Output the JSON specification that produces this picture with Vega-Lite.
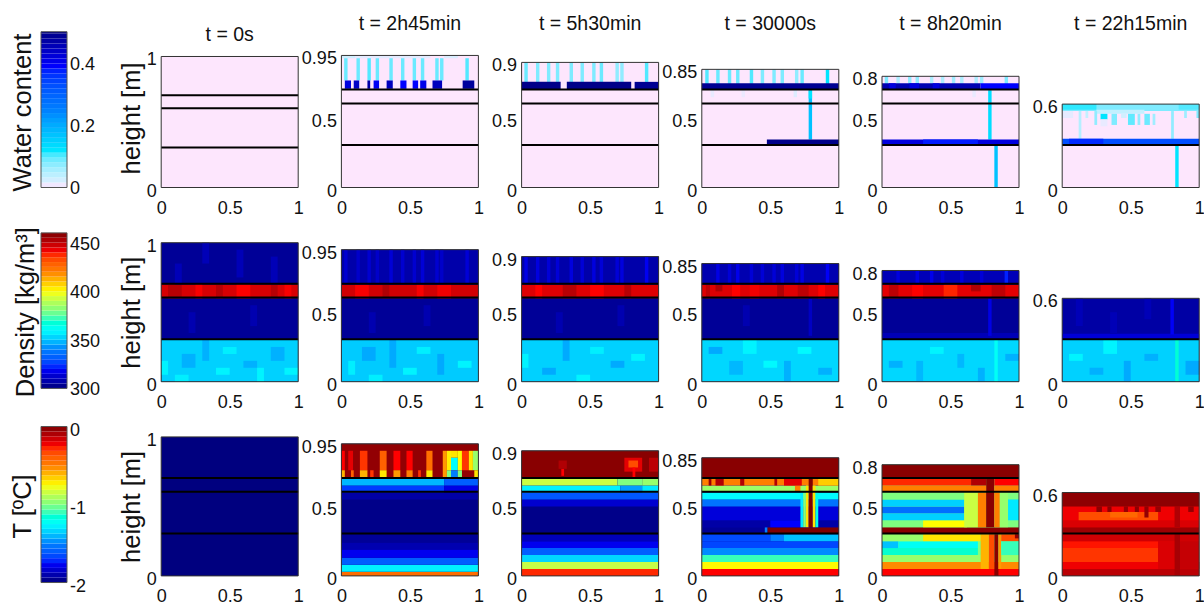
{"$schema":"https://vega.github.io/schema/vega-lite/v6.json","background":"white","padding":{"left":10,"top":13.5,"right":0,"bottom":0},"bounds":"flush","columns":7,"spacing":{"row":55.2,"column":43.2},"resolve":{"scale":{"color":"independent"}},
"config":{"view":{"stroke":null},"font":"Liberation Sans","axis":{"domain":false,"grid":false,"labelFont":"Liberation Sans","labelFontSize":18,"labelColor":"#111","tickColor":"#333","tickSize":0,"labelOverlap":false,"labelFlush":false,"titleFont":"Liberation Sans","titleFontSize":25.5,"titleFontWeight":"normal","titleColor":"#111"},"axisX":{"labelPadding":12},"axisY":{"labelPadding":5,"labelOffset":3.5,"titlePadding":2},"title":{"font":"Liberation Sans","fontWeight":"normal","fontSize":19.5,"color":"#111"}},
"datasets":{
"F100":[{"x0":0,"x1":1,"y0":0,"y1":1}],"F95":[{"x0":0,"x1":1,"y0":0,"y1":0.95}],"F90":[{"x0":0,"x1":1,"y0":0,"y1":0.9}],"F85":[{"x0":0,"x1":1,"y0":0,"y1":0.85}],"F80":[{"x0":0,"x1":1,"y0":0,"y1":0.8}],"F60":[{"x0":0,"x1":1,"y0":0,"y1":0.6}],
"L3":[{"x0":0,"x1":1,"y0":0.305,"y1":0.305},{"x0":0,"x1":1,"y0":0.605,"y1":0.605},{"x0":0,"x1":1,"y0":0.705,"y1":0.705}],"L1":[{"x0":0,"x1":1,"y0":0.305,"y1":0.305}],
"cbwl":[{"y0":0,"t":"0"},{"y0":0.2,"t":"0.2"},{"y0":0.4,"t":"0.4"}],"cbdl":[{"y0":300,"t":"300"},{"y0":350,"t":"350"},{"y0":400,"t":"400"},{"y0":450,"t":"450"}],"cbtl":[{"y0":-2,"t":"-2"},{"y0":-1,"t":"-1"},{"y0":0,"t":"0"}],
"cbwf":[{"x0":0,"x1":1,"y0":0,"y1":0.502}],"cbdf":[{"x0":0,"x1":1,"y0":300,"y1":460}],"cbtf":[{"x0":0,"x1":1,"y0":-2,"y1":0}],
"cbw":[{"y0":0,"y1":0.016,"v":0.008},{"y0":0.016,"y1":0.032,"v":0.024},{"y0":0.032,"y1":0.048,"v":0.04},{"y0":0.048,"y1":0.064,"v":0.056},{"y0":0.064,"y1":0.08,"v":0.072},{"y0":0.08,"y1":0.096,"v":0.088},{"y0":0.096,"y1":0.112,"v":0.104},{"y0":0.112,"y1":0.128,"v":0.12},{"y0":0.128,"y1":0.144,"v":0.136},{"y0":0.144,"y1":0.16,"v":0.152},{"y0":0.16,"y1":0.176,"v":0.168},{"y0":0.176,"y1":0.192,"v":0.184},{"y0":0.192,"y1":0.208,"v":0.2},{"y0":0.208,"y1":0.224,"v":0.216},{"y0":0.224,"y1":0.24,"v":0.232},{"y0":0.24,"y1":0.256,"v":0.248},{"y0":0.256,"y1":0.272,"v":0.264},{"y0":0.272,"y1":0.288,"v":0.28},{"y0":0.288,"y1":0.304,"v":0.296},{"y0":0.304,"y1":0.32,"v":0.312},{"y0":0.32,"y1":0.336,"v":0.328},{"y0":0.336,"y1":0.352,"v":0.344},{"y0":0.352,"y1":0.368,"v":0.36},{"y0":0.368,"y1":0.384,"v":0.376},{"y0":0.384,"y1":0.4,"v":0.392},{"y0":0.4,"y1":0.416,"v":0.408},{"y0":0.416,"y1":0.432,"v":0.424},{"y0":0.432,"y1":0.448,"v":0.44},{"y0":0.448,"y1":0.464,"v":0.456},{"y0":0.464,"y1":0.48,"v":0.472},{"y0":0.48,"y1":0.496,"v":0.488},{"y0":0.496,"y1":0.502,"v":0.505}],
"cbd":[{"y0":300,"y1":305,"v":302.5},{"y0":305,"y1":310,"v":307.5},{"y0":310,"y1":315,"v":312.5},{"y0":315,"y1":320,"v":317.5},{"y0":320,"y1":325,"v":322.5},{"y0":325,"y1":330,"v":327.5},{"y0":330,"y1":335,"v":332.5},{"y0":335,"y1":340,"v":337.5},{"y0":340,"y1":345,"v":342.5},{"y0":345,"y1":350,"v":347.5},{"y0":350,"y1":355,"v":352.5},{"y0":355,"y1":360,"v":357.5},{"y0":360,"y1":365,"v":362.5},{"y0":365,"y1":370,"v":367.5},{"y0":370,"y1":375,"v":372.5},{"y0":375,"y1":380,"v":377.5},{"y0":380,"y1":385,"v":382.5},{"y0":385,"y1":390,"v":387.5},{"y0":390,"y1":395,"v":392.5},{"y0":395,"y1":400,"v":397.5},{"y0":400,"y1":405,"v":402.5},{"y0":405,"y1":410,"v":407.5},{"y0":410,"y1":415,"v":412.5},{"y0":415,"y1":420,"v":417.5},{"y0":420,"y1":425,"v":422.5},{"y0":425,"y1":430,"v":427.5},{"y0":430,"y1":435,"v":432.5},{"y0":435,"y1":440,"v":437.5},{"y0":440,"y1":445,"v":442.5},{"y0":445,"y1":450,"v":447.5},{"y0":450,"y1":455,"v":452.5},{"y0":455,"y1":460,"v":457.5}],
"cbt":[{"y0":-2,"y1":-1.9375,"v":-1.97},{"y0":-1.9375,"y1":-1.875,"v":-1.906},{"y0":-1.875,"y1":-1.8125,"v":-1.844},{"y0":-1.8125,"y1":-1.75,"v":-1.781},{"y0":-1.75,"y1":-1.6875,"v":-1.719},{"y0":-1.6875,"y1":-1.625,"v":-1.656},{"y0":-1.625,"y1":-1.5625,"v":-1.594},{"y0":-1.5625,"y1":-1.5,"v":-1.531},{"y0":-1.5,"y1":-1.4375,"v":-1.469},{"y0":-1.4375,"y1":-1.375,"v":-1.406},{"y0":-1.375,"y1":-1.3125,"v":-1.344},{"y0":-1.3125,"y1":-1.25,"v":-1.281},{"y0":-1.25,"y1":-1.1875,"v":-1.219},{"y0":-1.1875,"y1":-1.125,"v":-1.156},{"y0":-1.125,"y1":-1.0625,"v":-1.094},{"y0":-1.0625,"y1":-1,"v":-1.031},{"y0":-1,"y1":-0.9375,"v":-0.969},{"y0":-0.9375,"y1":-0.875,"v":-0.906},{"y0":-0.875,"y1":-0.8125,"v":-0.844},{"y0":-0.8125,"y1":-0.75,"v":-0.781},{"y0":-0.75,"y1":-0.6875,"v":-0.719},{"y0":-0.6875,"y1":-0.625,"v":-0.656},{"y0":-0.625,"y1":-0.5625,"v":-0.594},{"y0":-0.5625,"y1":-0.5,"v":-0.531},{"y0":-0.5,"y1":-0.4375,"v":-0.469},{"y0":-0.4375,"y1":-0.375,"v":-0.406},{"y0":-0.375,"y1":-0.3125,"v":-0.344},{"y0":-0.3125,"y1":-0.25,"v":-0.281},{"y0":-0.25,"y1":-0.1875,"v":-0.219},{"y0":-0.1875,"y1":-0.125,"v":-0.156},{"y0":-0.125,"y1":-0.0625,"v":-0.094},{"y0":-0.0625,"y1":0,"v":-0.03}],
"w1":[{"x0":0,"x1":1,"y0":0,"y1":1,"v":0}],
"w2":[{"x0":0,"x1":1,"y0":0,"y1":0.95,"v":0},{"x0":0,"x1":0.1,"y0":0.93,"y1":0.95,"v":0.025},{"x0":0.1,"x1":0.65,"y0":0.93,"y1":0.95,"v":0.015},{"x0":0.75,"x1":0.85,"y0":0.93,"y1":0.95,"v":0.02},{"x0":0.02,"x1":0.045,"y0":0.77,"y1":0.93,"v":0.09},{"x0":0.11,"x1":0.135,"y0":0.77,"y1":0.93,"v":0.09},{"x0":0.19,"x1":0.215,"y0":0.77,"y1":0.93,"v":0.1},{"x0":0.25,"x1":0.275,"y0":0.77,"y1":0.93,"v":0.09},{"x0":0.35,"x1":0.375,"y0":0.77,"y1":0.93,"v":0.09},{"x0":0.435,"x1":0.46,"y0":0.77,"y1":0.93,"v":0.09},{"x0":0.52,"x1":0.545,"y0":0.77,"y1":0.93,"v":0.09},{"x0":0.58,"x1":0.605,"y0":0.77,"y1":0.93,"v":0.09},{"x0":0.685,"x1":0.71,"y0":0.77,"y1":0.93,"v":0.09},{"x0":0.72,"x1":0.745,"y0":0.77,"y1":0.93,"v":0.09},{"x0":0.905,"x1":0.93,"y0":0.77,"y1":0.93,"v":0.1},{"x0":0.025,"x1":0.07,"y0":0.71,"y1":0.77,"v":0.42},{"x0":0.09,"x1":0.13,"y0":0.71,"y1":0.77,"v":0.44},{"x0":0.19,"x1":0.21,"y0":0.71,"y1":0.77,"v":0.47},{"x0":0.235,"x1":0.275,"y0":0.71,"y1":0.77,"v":0.4},{"x0":0.33,"x1":0.375,"y0":0.71,"y1":0.77,"v":0.45},{"x0":0.43,"x1":0.475,"y0":0.71,"y1":0.77,"v":0.39},{"x0":0.52,"x1":0.56,"y0":0.71,"y1":0.77,"v":0.39},{"x0":0.575,"x1":0.62,"y0":0.71,"y1":0.77,"v":0.41},{"x0":0.665,"x1":0.735,"y0":0.71,"y1":0.77,"v":0.45},{"x0":0.885,"x1":0.97,"y0":0.71,"y1":0.77,"v":0.48}],
"w3":[{"x0":0,"x1":1,"y0":0,"y1":0.9,"v":0},{"x0":0.02,"x1":0.045,"y0":0.755,"y1":0.9,"v":0.09},{"x0":0.105,"x1":0.13,"y0":0.755,"y1":0.9,"v":0.08},{"x0":0.185,"x1":0.21,"y0":0.755,"y1":0.9,"v":0.08},{"x0":0.25,"x1":0.275,"y0":0.755,"y1":0.9,"v":0.08},{"x0":0.35,"x1":0.375,"y0":0.755,"y1":0.9,"v":0.08},{"x0":0.43,"x1":0.455,"y0":0.755,"y1":0.9,"v":0.08},{"x0":0.515,"x1":0.54,"y0":0.755,"y1":0.9,"v":0.08},{"x0":0.57,"x1":0.595,"y0":0.755,"y1":0.9,"v":0.09},{"x0":0.685,"x1":0.71,"y0":0.755,"y1":0.9,"v":0.07},{"x0":0.72,"x1":0.745,"y0":0.755,"y1":0.9,"v":0.07},{"x0":0.9,"x1":0.925,"y0":0.755,"y1":0.9,"v":0.1},{"x0":0,"x1":0.285,"y0":0.705,"y1":0.76,"v":0.5},{"x0":0.33,"x1":0.8,"y0":0.705,"y1":0.76,"v":0.5},{"x0":0.825,"x1":1,"y0":0.705,"y1":0.76,"v":0.49}],
"w4":[{"x0":0,"x1":1,"y0":0,"y1":0.85,"v":0},{"x0":0.025,"x1":0.05,"y0":0.745,"y1":0.85,"v":0.1},{"x0":0.105,"x1":0.13,"y0":0.745,"y1":0.85,"v":0.09},{"x0":0.19,"x1":0.215,"y0":0.745,"y1":0.85,"v":0.09},{"x0":0.25,"x1":0.275,"y0":0.745,"y1":0.85,"v":0.09},{"x0":0.35,"x1":0.375,"y0":0.745,"y1":0.85,"v":0.1},{"x0":0.43,"x1":0.455,"y0":0.745,"y1":0.85,"v":0.08},{"x0":0.515,"x1":0.54,"y0":0.745,"y1":0.85,"v":0.08},{"x0":0.575,"x1":0.6,"y0":0.745,"y1":0.85,"v":0.08},{"x0":0.68,"x1":0.705,"y0":0.745,"y1":0.85,"v":0.07},{"x0":0.72,"x1":0.745,"y0":0.745,"y1":0.85,"v":0.09},{"x0":0.905,"x1":0.93,"y0":0.745,"y1":0.85,"v":0.12},{"x0":0,"x1":1,"y0":0.705,"y1":0.75,"v":0.49},{"x0":0.065,"x1":0.09,"y0":0.65,"y1":0.7,"v":0.012},{"x0":0.29,"x1":0.315,"y0":0.65,"y1":0.7,"v":0.01},{"x0":0.67,"x1":0.695,"y0":0.65,"y1":0.7,"v":0.018},{"x0":0.78,"x1":0.805,"y0":0.345,"y1":0.7,"v":0.17},{"x0":0.78,"x1":0.805,"y0":0.64,"y1":0.7,"v":0.12},{"x0":0.475,"x1":1,"y0":0.305,"y1":0.345,"v":0.5}],
"w5":[{"x0":0,"x1":1,"y0":0,"y1":0.8,"v":0},{"x0":0.02,"x1":0.045,"y0":0.745,"y1":0.8,"v":0.08},{"x0":0.105,"x1":0.13,"y0":0.745,"y1":0.8,"v":0.05},{"x0":0.19,"x1":0.215,"y0":0.745,"y1":0.8,"v":0.07},{"x0":0.245,"x1":0.27,"y0":0.745,"y1":0.8,"v":0.07},{"x0":0.35,"x1":0.375,"y0":0.745,"y1":0.8,"v":0.05},{"x0":0.43,"x1":0.455,"y0":0.745,"y1":0.8,"v":0.05},{"x0":0.51,"x1":0.535,"y0":0.745,"y1":0.8,"v":0.06},{"x0":0.57,"x1":0.595,"y0":0.745,"y1":0.8,"v":0.05},{"x0":0.675,"x1":0.7,"y0":0.745,"y1":0.8,"v":0.05},{"x0":0.715,"x1":0.74,"y0":0.745,"y1":0.8,"v":0.06},{"x0":0.895,"x1":0.92,"y0":0.745,"y1":0.8,"v":0.08},{"x0":0,"x1":0.72,"y0":0.705,"y1":0.75,"v":0.46},{"x0":0.05,"x1":0.1,"y0":0.705,"y1":0.75,"v":0.42},{"x0":0.2,"x1":0.27,"y0":0.705,"y1":0.75,"v":0.42},{"x0":0.37,"x1":0.42,"y0":0.705,"y1":0.75,"v":0.42},{"x0":0.72,"x1":1,"y0":0.705,"y1":0.75,"v":0.39},{"x0":0.66,"x1":0.685,"y0":0.65,"y1":0.7,"v":0.012},{"x0":0.775,"x1":0.8,"y0":0.345,"y1":0.7,"v":0.13},{"x0":0,"x1":1,"y0":0.305,"y1":0.345,"v":0.42},{"x0":0.3,"x1":0.7,"y0":0.305,"y1":0.345,"v":0.38},{"x0":0.82,"x1":0.845,"y0":0,"y1":0.3,"v":0.17}],
"w6":[{"x0":0,"x1":1,"y0":0,"y1":0.6,"v":0},{"x0":0,"x1":1,"y0":0.55,"y1":0.6,"v":0.08},{"x0":0,"x1":0.25,"y0":0.56,"y1":0.6,"v":0.11},{"x0":0.85,"x1":1,"y0":0.56,"y1":0.6,"v":0.1},{"x0":0.25,"x1":0.6,"y0":0.53,"y1":0.56,"v":0.035},{"x0":0,"x1":0.08,"y0":0.5,"y1":0.55,"v":0.014},{"x0":0.12,"x1":0.14,"y0":0.35,"y1":0.55,"v":0.045},{"x0":0.17,"x1":0.19,"y0":0.5,"y1":0.55,"v":0.035},{"x0":0.235,"x1":0.255,"y0":0.45,"y1":0.55,"v":0.07},{"x0":0.28,"x1":0.33,"y0":0.49,"y1":0.53,"v":0.12},{"x0":0.28,"x1":0.33,"y0":0.44,"y1":0.49,"v":0.012},{"x0":0.36,"x1":0.4,"y0":0.45,"y1":0.53,"v":0.08},{"x0":0.43,"x1":0.47,"y0":0.5,"y1":0.53,"v":0.025},{"x0":0.48,"x1":0.53,"y0":0.45,"y1":0.53,"v":0.095},{"x0":0.55,"x1":0.57,"y0":0.45,"y1":0.53,"v":0.07},{"x0":0.6,"x1":0.64,"y0":0.45,"y1":0.53,"v":0.09},{"x0":0.66,"x1":0.68,"y0":0.45,"y1":0.53,"v":0.06},{"x0":0.795,"x1":0.815,"y0":0.35,"y1":0.55,"v":0.07},{"x0":0.89,"x1":0.91,"y0":0.5,"y1":0.55,"v":0.06},{"x0":0.98,"x1":1,"y0":0.5,"y1":0.55,"v":0.08},{"x0":0,"x1":1,"y0":0.305,"y1":0.35,"v":0.33},{"x0":0.05,"x1":0.3,"y0":0.305,"y1":0.35,"v":0.37},{"x0":0.825,"x1":0.85,"y0":0,"y1":0.3,"v":0.12}],
"d1":[{"x0":0,"x1":1,"y0":0,"y1":1,"v":304},{"x0":0,"x1":1,"y0":0,"y1":0.3,"v":352},{"x0":0,"x1":0.05,"y0":0.05,"y1":0.15,"v":358},{"x0":0.1,"x1":0.2,"y0":0,"y1":0.05,"v":357},{"x0":0.15,"x1":0.25,"y0":0.1,"y1":0.2,"v":347},{"x0":0.3,"x1":0.35,"y0":0.15,"y1":0.3,"v":347},{"x0":0.4,"x1":0.5,"y0":0.05,"y1":0.1,"v":358},{"x0":0.45,"x1":0.55,"y0":0.2,"y1":0.25,"v":357},{"x0":0.6,"x1":0.7,"y0":0.1,"y1":0.15,"v":347},{"x0":0.7,"x1":0.75,"y0":0,"y1":0.1,"v":358},{"x0":0.8,"x1":0.9,"y0":0.15,"y1":0.25,"v":347},{"x0":0.9,"x1":1,"y0":0.05,"y1":0.1,"v":358},{"x0":0,"x1":1,"y0":0.6,"y1":0.7,"v":446},{"x0":0.05,"x1":0.15,"y0":0.6,"y1":0.7,"v":451},{"x0":0.25,"x1":0.3,"y0":0.6,"y1":0.7,"v":441},{"x0":0.4,"x1":0.45,"y0":0.6,"y1":0.7,"v":451},{"x0":0.55,"x1":0.65,"y0":0.6,"y1":0.7,"v":440},{"x0":0.8,"x1":0.85,"y0":0.6,"y1":0.7,"v":451},{"x0":0.9,"x1":0.95,"y0":0.6,"y1":0.7,"v":441},{"x0":0.1,"x1":0.15,"y0":0.7,"y1":0.85,"v":309},{"x0":0.3,"x1":0.35,"y0":0.85,"y1":1,"v":309},{"x0":0.55,"x1":0.6,"y0":0.75,"y1":0.95,"v":309},{"x0":0.8,"x1":0.85,"y0":0.7,"y1":0.9,"v":309},{"x0":0.2,"x1":0.25,"y0":0.35,"y1":0.5,"v":308},{"x0":0.65,"x1":0.7,"y0":0.4,"y1":0.55,"v":308}],
"d2":[{"x0":0,"x1":1,"y0":0,"y1":0.95,"v":304},{"x0":0,"x1":1,"y0":0,"y1":0.3,"v":351},{"x0":0.05,"x1":0.1,"y0":0.05,"y1":0.15,"v":357},{"x0":0.2,"x1":0.3,"y0":0,"y1":0.05,"v":357},{"x0":0.15,"x1":0.25,"y0":0.15,"y1":0.25,"v":346},{"x0":0.35,"x1":0.4,"y0":0.1,"y1":0.3,"v":346},{"x0":0.45,"x1":0.55,"y0":0.05,"y1":0.1,"v":358},{"x0":0.55,"x1":0.65,"y0":0.2,"y1":0.25,"v":357},{"x0":0.7,"x1":0.75,"y0":0.05,"y1":0.2,"v":346},{"x0":0.85,"x1":0.95,"y0":0.1,"y1":0.15,"v":358},{"x0":0,"x1":1,"y0":0.6,"y1":0.7,"v":447},{"x0":0.1,"x1":0.2,"y0":0.6,"y1":0.7,"v":441},{"x0":0.3,"x1":0.35,"y0":0.6,"y1":0.7,"v":452},{"x0":0.55,"x1":0.6,"y0":0.6,"y1":0.7,"v":441},{"x0":0.7,"x1":0.8,"y0":0.6,"y1":0.7,"v":442},{"x0":0.2,"x1":0.25,"y0":0.35,"y1":0.5,"v":308},{"x0":0.6,"x1":0.65,"y0":0.4,"y1":0.55,"v":308},{"x0":0,"x1":1,"y0":0.7,"y1":0.95,"v":307},{"x0":0.02,"x1":0.045,"y0":0.7,"y1":0.95,"v":313},{"x0":0.11,"x1":0.135,"y0":0.7,"y1":0.95,"v":312},{"x0":0.19,"x1":0.215,"y0":0.7,"y1":0.95,"v":313},{"x0":0.25,"x1":0.275,"y0":0.7,"y1":0.95,"v":312},{"x0":0.35,"x1":0.375,"y0":0.7,"y1":0.95,"v":314},{"x0":0.435,"x1":0.46,"y0":0.7,"y1":0.95,"v":313},{"x0":0.52,"x1":0.545,"y0":0.7,"y1":0.95,"v":313},{"x0":0.58,"x1":0.605,"y0":0.7,"y1":0.95,"v":314},{"x0":0.685,"x1":0.71,"y0":0.7,"y1":0.95,"v":313},{"x0":0.72,"x1":0.745,"y0":0.7,"y1":0.95,"v":312},{"x0":0.905,"x1":0.93,"y0":0.7,"y1":0.95,"v":314}],
"d3":[{"x0":0,"x1":1,"y0":0,"y1":0.9,"v":304},{"x0":0,"x1":1,"y0":0,"y1":0.3,"v":352},{"x0":0,"x1":0.05,"y0":0.1,"y1":0.2,"v":358},{"x0":0.15,"x1":0.25,"y0":0.05,"y1":0.1,"v":346},{"x0":0.3,"x1":0.35,"y0":0.15,"y1":0.3,"v":346},{"x0":0.4,"x1":0.5,"y0":0,"y1":0.05,"v":358},{"x0":0.5,"x1":0.6,"y0":0.2,"y1":0.25,"v":357},{"x0":0.65,"x1":0.75,"y0":0.1,"y1":0.15,"v":346},{"x0":0.8,"x1":0.9,"y0":0.15,"y1":0.2,"v":358},{"x0":0,"x1":1,"y0":0.6,"y1":0.7,"v":445},{"x0":0.1,"x1":0.15,"y0":0.6,"y1":0.7,"v":440},{"x0":0.3,"x1":0.4,"y0":0.6,"y1":0.7,"v":451},{"x0":0.5,"x1":0.6,"y0":0.6,"y1":0.7,"v":440},{"x0":0.75,"x1":0.8,"y0":0.6,"y1":0.7,"v":451},{"x0":0.25,"x1":0.3,"y0":0.35,"y1":0.5,"v":308},{"x0":0.7,"x1":0.75,"y0":0.4,"y1":0.55,"v":308},{"x0":0,"x1":1,"y0":0.7,"y1":0.9,"v":307},{"x0":0.02,"x1":0.045,"y0":0.7,"y1":0.9,"v":316},{"x0":0.105,"x1":0.13,"y0":0.7,"y1":0.9,"v":315},{"x0":0.185,"x1":0.21,"y0":0.7,"y1":0.9,"v":314},{"x0":0.25,"x1":0.275,"y0":0.7,"y1":0.9,"v":314},{"x0":0.35,"x1":0.375,"y0":0.7,"y1":0.9,"v":315},{"x0":0.43,"x1":0.455,"y0":0.7,"y1":0.9,"v":314},{"x0":0.515,"x1":0.54,"y0":0.7,"y1":0.9,"v":315},{"x0":0.57,"x1":0.595,"y0":0.7,"y1":0.9,"v":314},{"x0":0.685,"x1":0.71,"y0":0.7,"y1":0.9,"v":314},{"x0":0.72,"x1":0.745,"y0":0.7,"y1":0.9,"v":315},{"x0":0.9,"x1":0.925,"y0":0.7,"y1":0.9,"v":318}],
"d4":[{"x0":0,"x1":1,"y0":0,"y1":0.85,"v":304},{"x0":0,"x1":1,"y0":0,"y1":0.3,"v":353},{"x0":0.05,"x1":0.15,"y0":0.2,"y1":0.25,"v":346},{"x0":0.2,"x1":0.3,"y0":0.05,"y1":0.15,"v":348},{"x0":0.3,"x1":0.4,"y0":0.2,"y1":0.3,"v":358},{"x0":0.45,"x1":0.55,"y0":0.1,"y1":0.15,"v":359},{"x0":0.6,"x1":0.65,"y0":0,"y1":0.15,"v":347},{"x0":0.7,"x1":0.8,"y0":0.2,"y1":0.25,"v":359},{"x0":0.85,"x1":0.95,"y0":0.05,"y1":0.1,"v":347},{"x0":0,"x1":1,"y0":0.6,"y1":0.7,"v":445},{"x0":0.03,"x1":0.06,"y0":0.6,"y1":0.7,"v":450},{"x0":0.1,"x1":0.15,"y0":0.65,"y1":0.7,"v":452},{"x0":0.22,"x1":0.28,"y0":0.6,"y1":0.7,"v":440},{"x0":0.35,"x1":0.42,"y0":0.6,"y1":0.7,"v":442},{"x0":0.55,"x1":0.6,"y0":0.6,"y1":0.7,"v":452},{"x0":0.7,"x1":0.78,"y0":0.6,"y1":0.7,"v":450},{"x0":0.85,"x1":0.9,"y0":0.6,"y1":0.7,"v":440},{"x0":0.78,"x1":0.805,"y0":0.33,"y1":0.6,"v":311},{"x0":0.3,"x1":0.35,"y0":0.4,"y1":0.55,"v":308},{"x0":0,"x1":1,"y0":0.7,"y1":0.85,"v":308},{"x0":0.105,"x1":0.13,"y0":0.7,"y1":0.85,"v":316},{"x0":0.19,"x1":0.215,"y0":0.7,"y1":0.85,"v":314},{"x0":0.25,"x1":0.275,"y0":0.7,"y1":0.85,"v":317},{"x0":0.35,"x1":0.375,"y0":0.7,"y1":0.85,"v":314},{"x0":0.43,"x1":0.455,"y0":0.7,"y1":0.85,"v":314},{"x0":0.515,"x1":0.54,"y0":0.7,"y1":0.85,"v":314},{"x0":0.575,"x1":0.6,"y0":0.7,"y1":0.85,"v":315},{"x0":0.68,"x1":0.705,"y0":0.7,"y1":0.85,"v":314},{"x0":0.72,"x1":0.745,"y0":0.7,"y1":0.85,"v":316},{"x0":0.905,"x1":0.93,"y0":0.7,"y1":0.85,"v":319}],
"d5":[{"x0":0,"x1":1,"y0":0,"y1":0.8,"v":304},{"x0":0,"x1":1,"y0":0,"y1":0.3,"v":353},{"x0":0.05,"x1":0.15,"y0":0.1,"y1":0.15,"v":347},{"x0":0.25,"x1":0.3,"y0":0,"y1":0.15,"v":348},{"x0":0.35,"x1":0.45,"y0":0.2,"y1":0.25,"v":358},{"x0":0.55,"x1":0.6,"y0":0.1,"y1":0.2,"v":348},{"x0":0.7,"x1":0.75,"y0":0,"y1":0.1,"v":347},{"x0":0.82,"x1":0.845,"y0":0,"y1":0.3,"v":362},{"x0":0.9,"x1":1,"y0":0.15,"y1":0.2,"v":347},{"x0":0,"x1":1,"y0":0.6,"y1":0.7,"v":444},{"x0":0.05,"x1":0.12,"y0":0.6,"y1":0.7,"v":450},{"x0":0.22,"x1":0.3,"y0":0.6,"y1":0.7,"v":440},{"x0":0.45,"x1":0.55,"y0":0.6,"y1":0.7,"v":438},{"x0":0.65,"x1":0.72,"y0":0.65,"y1":0.7,"v":452},{"x0":0.8,"x1":0.9,"y0":0.6,"y1":0.7,"v":450},{"x0":0,"x1":1,"y0":0.3,"y1":0.35,"v":309},{"x0":0.775,"x1":0.8,"y0":0.33,"y1":0.6,"v":316},{"x0":0,"x1":1,"y0":0.7,"y1":0.8,"v":309},{"x0":0.105,"x1":0.13,"y0":0.7,"y1":0.8,"v":315},{"x0":0.245,"x1":0.27,"y0":0.7,"y1":0.8,"v":316},{"x0":0.35,"x1":0.375,"y0":0.7,"y1":0.8,"v":317},{"x0":0.43,"x1":0.455,"y0":0.7,"y1":0.8,"v":314},{"x0":0.57,"x1":0.595,"y0":0.7,"y1":0.8,"v":315},{"x0":0.715,"x1":0.74,"y0":0.7,"y1":0.8,"v":314},{"x0":0.895,"x1":0.92,"y0":0.7,"y1":0.8,"v":322}],
"d6":[{"x0":0,"x1":1,"y0":0,"y1":0.6,"v":306},{"x0":0,"x1":1,"y0":0,"y1":0.3,"v":352},{"x0":0.05,"x1":0.15,"y0":0.15,"y1":0.2,"v":358},{"x0":0.2,"x1":0.3,"y0":0.05,"y1":0.1,"v":347},{"x0":0.3,"x1":0.4,"y0":0.2,"y1":0.3,"v":358},{"x0":0.45,"x1":0.5,"y0":0,"y1":0.15,"v":346},{"x0":0.6,"x1":0.7,"y0":0.15,"y1":0.2,"v":347},{"x0":0.825,"x1":0.85,"y0":0,"y1":0.3,"v":368},{"x0":0.9,"x1":1,"y0":0.05,"y1":0.15,"v":346},{"x0":0,"x1":1,"y0":0.305,"y1":0.345,"v":314},{"x0":0.1,"x1":0.15,"y0":0.4,"y1":0.6,"v":309},{"x0":0.35,"x1":0.4,"y0":0.35,"y1":0.5,"v":309},{"x0":0.6,"x1":0.65,"y0":0.45,"y1":0.6,"v":309},{"x0":0.79,"x1":0.815,"y0":0.34,"y1":0.6,"v":319}],
"t1":[{"x0":0,"x1":1,"y0":0,"y1":1,"v":-2}],
"t2":[{"x0":0,"x1":1,"y0":0,"y1":0.95,"v":-1.98},{"x0":0,"x1":1,"y0":0,"y1":0.03,"v":-0.44},{"x0":0,"x1":1,"y0":0.03,"y1":0.08,"v":-1.28},{"x0":0,"x1":1,"y0":0.08,"y1":0.13,"v":-1.6},{"x0":0,"x1":1,"y0":0.13,"y1":0.19,"v":-1.78},{"x0":0,"x1":1,"y0":0.19,"y1":0.24,"v":-1.9},{"x0":0,"x1":1,"y0":0.24,"y1":0.3,"v":-1.95},{"x0":0,"x1":1,"y0":0.55,"y1":0.6,"v":-1.92},{"x0":0,"x1":0.75,"y0":0.6,"y1":0.65,"v":-1.68},{"x0":0.75,"x1":1,"y0":0.6,"y1":0.65,"v":-1.8},{"x0":0,"x1":0.75,"y0":0.65,"y1":0.705,"v":-1.4},{"x0":0.75,"x1":1,"y0":0.65,"y1":0.705,"v":-1.6},{"x0":0,"x1":1,"y0":0.705,"y1":0.95,"v":-0.04},{"x0":0,"x1":0.025,"y0":0.76,"y1":0.9,"v":-0.25},{"x0":0.05,"x1":0.085,"y0":0.76,"y1":0.9,"v":-0.2},{"x0":0.135,"x1":0.19,"y0":0.76,"y1":0.9,"v":-0.3},{"x0":0.28,"x1":0.33,"y0":0.76,"y1":0.9,"v":-0.4},{"x0":0.38,"x1":0.43,"y0":0.76,"y1":0.9,"v":-0.25},{"x0":0.475,"x1":0.52,"y0":0.76,"y1":0.9,"v":-0.25},{"x0":0.62,"x1":0.665,"y0":0.76,"y1":0.9,"v":-0.45},{"x0":0,"x1":0.025,"y0":0.71,"y1":0.76,"v":-0.6},{"x0":0.07,"x1":0.09,"y0":0.71,"y1":0.76,"v":-0.4},{"x0":0.135,"x1":0.19,"y0":0.71,"y1":0.76,"v":-0.6},{"x0":0.21,"x1":0.235,"y0":0.71,"y1":0.76,"v":-0.3},{"x0":0.28,"x1":0.33,"y0":0.71,"y1":0.76,"v":-0.7},{"x0":0.38,"x1":0.43,"y0":0.71,"y1":0.76,"v":-0.55},{"x0":0.475,"x1":0.52,"y0":0.71,"y1":0.76,"v":-0.5},{"x0":0.56,"x1":0.58,"y0":0.71,"y1":0.76,"v":-0.3},{"x0":0.62,"x1":0.665,"y0":0.71,"y1":0.76,"v":-0.7},{"x0":0.74,"x1":0.77,"y0":0.71,"y1":0.9,"v":-0.55},{"x0":0.77,"x1":0.8,"y0":0.76,"y1":0.9,"v":-0.72},{"x0":0.8,"x1":0.85,"y0":0.85,"y1":0.9,"v":-0.7},{"x0":0.77,"x1":0.8,"y0":0.71,"y1":0.76,"v":-1},{"x0":0.8,"x1":0.85,"y0":0.76,"y1":0.85,"v":-1.25},{"x0":0.8,"x1":0.85,"y0":0.71,"y1":0.76,"v":-1.5},{"x0":0.85,"x1":0.88,"y0":0.76,"y1":0.9,"v":-0.75},{"x0":0.85,"x1":0.88,"y0":0.71,"y1":0.76,"v":-1},{"x0":0.88,"x1":0.93,"y0":0.76,"y1":0.9,"v":-0.3},{"x0":0.93,"x1":0.96,"y0":0.76,"y1":0.9,"v":-0.7},{"x0":0.96,"x1":1,"y0":0.76,"y1":0.9,"v":-0.95},{"x0":0.97,"x1":1,"y0":0.71,"y1":0.76,"v":-0.7}],
"t3":[{"x0":0,"x1":1,"y0":0,"y1":0.9,"v":-1.98},{"x0":0,"x1":1,"y0":0,"y1":0.05,"v":-0.28},{"x0":0,"x1":1,"y0":0.05,"y1":0.1,"v":-0.86},{"x0":0,"x1":1,"y0":0.1,"y1":0.15,"v":-1.34},{"x0":0,"x1":1,"y0":0.15,"y1":0.2,"v":-1.6},{"x0":0,"x1":1,"y0":0.2,"y1":0.25,"v":-1.78},{"x0":0,"x1":1,"y0":0.25,"y1":0.3,"v":-1.88},{"x0":0,"x1":1,"y0":0.5,"y1":0.55,"v":-1.84},{"x0":0,"x1":1,"y0":0.55,"y1":0.6,"v":-1.62},{"x0":0,"x1":0.72,"y0":0.6,"y1":0.65,"v":-1.28},{"x0":0.72,"x1":0.88,"y0":0.6,"y1":0.65,"v":-1.45},{"x0":0.88,"x1":1,"y0":0.6,"y1":0.65,"v":-1.3},{"x0":0,"x1":0.7,"y0":0.65,"y1":0.705,"v":-0.85},{"x0":0.7,"x1":0.88,"y0":0.65,"y1":0.705,"v":-1},{"x0":0.88,"x1":1,"y0":0.65,"y1":0.705,"v":-0.95},{"x0":0,"x1":1,"y0":0.705,"y1":0.9,"v":-0.02},{"x0":0.75,"x1":0.88,"y0":0.75,"y1":0.85,"v":-0.2},{"x0":0.78,"x1":0.85,"y0":0.78,"y1":0.83,"v":-0.35},{"x0":0.81,"x1":0.83,"y0":0.71,"y1":0.78,"v":-0.25},{"x0":0.93,"x1":1,"y0":0.75,"y1":0.85,"v":-0.12},{"x0":0.29,"x1":0.31,"y0":0.72,"y1":0.77,"v":-0.25},{"x0":0.27,"x1":0.33,"y0":0.77,"y1":0.83,"v":-0.1}],
"t4":[{"x0":0,"x1":1,"y0":0,"y1":0.85,"v":-1.9},{"x0":0,"x1":1,"y0":0,"y1":0.05,"v":-0.25},{"x0":0,"x1":1,"y0":0.05,"y1":0.1,"v":-0.74},{"x0":0,"x1":1,"y0":0.1,"y1":0.15,"v":-1.1},{"x0":0,"x1":1,"y0":0.15,"y1":0.2,"v":-1.48},{"x0":0,"x1":1,"y0":0.2,"y1":0.25,"v":-1.66},{"x0":0,"x1":0.5,"y0":0.25,"y1":0.3,"v":-1.65},{"x0":0.5,"x1":0.6,"y0":0.25,"y1":0.3,"v":-1.5},{"x0":0.6,"x1":1,"y0":0.25,"y1":0.3,"v":-1.38},{"x0":0,"x1":0.46,"y0":0.305,"y1":0.35,"v":-1.95},{"x0":0.46,"x1":0.48,"y0":0.305,"y1":0.35,"v":-1.5},{"x0":0.48,"x1":1,"y0":0.305,"y1":0.35,"v":0},{"x0":0,"x1":1,"y0":0.35,"y1":0.4,"v":-1.92},{"x0":0.5,"x1":0.72,"y0":0.35,"y1":0.4,"v":-1.75},{"x0":0,"x1":1,"y0":0.4,"y1":0.5,"v":-1.82},{"x0":0,"x1":1,"y0":0.5,"y1":0.55,"v":-1.54},{"x0":0,"x1":1,"y0":0.55,"y1":0.6,"v":-1.26},{"x0":0,"x1":1,"y0":0.605,"y1":0.65,"v":-0.94},{"x0":0.68,"x1":0.72,"y0":0.605,"y1":0.65,"v":-0.5},{"x0":0,"x1":1,"y0":0.65,"y1":0.705,"v":-0.5},{"x0":0.05,"x1":0.07,"y0":0.65,"y1":0.705,"v":-0.05},{"x0":0.1,"x1":0.16,"y0":0.65,"y1":0.705,"v":-0.1},{"x0":0.28,"x1":0.31,"y0":0.65,"y1":0.705,"v":-0.1},{"x0":0.53,"x1":0.55,"y0":0.65,"y1":0.705,"v":-0.1},{"x0":0.6,"x1":0.73,"y0":0.65,"y1":0.705,"v":-0.2},{"x0":0.72,"x1":0.74,"y0":0.35,"y1":0.6,"v":-1.3},{"x0":0.74,"x1":0.76,"y0":0.35,"y1":0.6,"v":-1},{"x0":0.76,"x1":0.78,"y0":0.35,"y1":0.65,"v":-0.7},{"x0":0.78,"x1":0.81,"y0":0.35,"y1":0.705,"v":0},{"x0":0.81,"x1":0.83,"y0":0.35,"y1":0.65,"v":-0.7},{"x0":0.83,"x1":0.85,"y0":0.35,"y1":0.6,"v":-1.2},{"x0":0.85,"x1":1,"y0":0.65,"y1":0.705,"v":-0.65},{"x0":0,"x1":1,"y0":0.705,"y1":0.85,"v":-0.02}],
"t5":[{"x0":0,"x1":1,"y0":0,"y1":0.8,"v":-1},{"x0":0,"x1":1,"y0":0,"y1":0.05,"v":-0.25},{"x0":0,"x1":1,"y0":0.05,"y1":0.1,"v":-0.52},{"x0":0,"x1":1,"y0":0.1,"y1":0.15,"v":-0.95},{"x0":0,"x1":0.7,"y0":0.15,"y1":0.2,"v":-1.14},{"x0":0,"x1":0.12,"y0":0.2,"y1":0.25,"v":-1.38},{"x0":0.12,"x1":0.7,"y0":0.2,"y1":0.25,"v":-1.22},{"x0":0,"x1":0.3,"y0":0.25,"y1":0.3,"v":-0.95},{"x0":0.3,"x1":0.72,"y0":0.25,"y1":0.3,"v":-0.7},{"x0":0.72,"x1":0.78,"y0":0.05,"y1":0.3,"v":-0.6},{"x0":0.78,"x1":0.82,"y0":0.05,"y1":0.3,"v":-0.35},{"x0":0.82,"x1":0.85,"y0":0,"y1":0.3,"v":-0.02},{"x0":0.85,"x1":0.87,"y0":0.05,"y1":0.3,"v":-0.55},{"x0":0.87,"x1":1,"y0":0.15,"y1":0.25,"v":-1.1},{"x0":0.87,"x1":1,"y0":0.25,"y1":0.3,"v":-0.35},{"x0":0.97,"x1":1,"y0":0.27,"y1":0.3,"v":-0.05},{"x0":0,"x1":1,"y0":0.305,"y1":0.35,"v":-0.02},{"x0":0,"x1":1,"y0":0.35,"y1":0.4,"v":-1},{"x0":0.3,"x1":0.62,"y0":0.35,"y1":0.4,"v":-0.75},{"x0":0,"x1":0.6,"y0":0.4,"y1":0.45,"v":-1.35},{"x0":0,"x1":0.6,"y0":0.45,"y1":0.5,"v":-1.55},{"x0":0,"x1":0.6,"y0":0.5,"y1":0.55,"v":-1.35},{"x0":0,"x1":0.6,"y0":0.55,"y1":0.6,"v":-1},{"x0":0.6,"x1":0.7,"y0":0.35,"y1":0.6,"v":-0.85},{"x0":0.7,"x1":0.76,"y0":0.35,"y1":0.6,"v":-0.5},{"x0":0.76,"x1":0.82,"y0":0.35,"y1":0.705,"v":-0.02},{"x0":0.82,"x1":0.86,"y0":0.35,"y1":0.6,"v":-0.5},{"x0":0.86,"x1":0.92,"y0":0.35,"y1":0.6,"v":-0.95},{"x0":0.92,"x1":1,"y0":0.4,"y1":0.55,"v":-1.3},{"x0":0,"x1":0.76,"y0":0.605,"y1":0.65,"v":-0.5},{"x0":0.82,"x1":1,"y0":0.605,"y1":0.65,"v":-0.5},{"x0":0,"x1":0.65,"y0":0.65,"y1":0.705,"v":-0.28},{"x0":0.65,"x1":0.76,"y0":0.65,"y1":0.705,"v":-0.1},{"x0":0.82,"x1":1,"y0":0.65,"y1":0.705,"v":-0.25},{"x0":0,"x1":1,"y0":0.705,"y1":0.8,"v":-0.02}],
"t6":[{"x0":0,"x1":1,"y0":0,"y1":0.6,"v":-0.2},{"x0":0,"x1":1,"y0":0,"y1":0.05,"v":-0.12},{"x0":0,"x1":1,"y0":0.05,"y1":0.1,"v":-0.22},{"x0":0,"x1":0.7,"y0":0.1,"y1":0.2,"v":-0.3},{"x0":0,"x1":0.7,"y0":0.2,"y1":0.25,"v":-0.26},{"x0":0,"x1":1,"y0":0.25,"y1":0.3,"v":-0.16},{"x0":0.7,"x1":0.82,"y0":0.05,"y1":0.25,"v":-0.18},{"x0":0.82,"x1":0.86,"y0":0,"y1":0.3,"v":-0.08},{"x0":0.86,"x1":1,"y0":0.05,"y1":0.25,"v":-0.14},{"x0":0,"x1":1,"y0":0.305,"y1":0.35,"v":-0.06},{"x0":0,"x1":1,"y0":0.35,"y1":0.4,"v":-0.18},{"x0":0,"x1":1,"y0":0.4,"y1":0.5,"v":-0.22},{"x0":0.12,"x1":0.7,"y0":0.4,"y1":0.46,"v":-0.35},{"x0":0.35,"x1":0.55,"y0":0.42,"y1":0.46,"v":-0.42},{"x0":0.82,"x1":0.86,"y0":0.35,"y1":0.5,"v":-0.1},{"x0":0,"x1":1,"y0":0.5,"y1":0.6,"v":-0.03},{"x0":0.25,"x1":0.29,"y0":0.46,"y1":0.5,"v":-0.03},{"x0":0.33,"x1":0.36,"y0":0.46,"y1":0.5,"v":-0.03},{"x0":0.45,"x1":0.48,"y0":0.46,"y1":0.5,"v":-0.05},{"x0":0.53,"x1":0.56,"y0":0.46,"y1":0.5,"v":-0.03},{"x0":0.6,"x1":0.63,"y0":0.42,"y1":0.5,"v":-0.04},{"x0":0.68,"x1":0.72,"y0":0.46,"y1":0.5,"v":-0.05},{"x0":0.92,"x1":0.96,"y0":0.46,"y1":0.5,"v":-0.04}]
},
"concat":[
{"width":77,"height":139,"title":{"text":"Water content","orient":"left","anchor":"middle","fontSize":25.5,"offset":4,"dx":5.5},"layer":[{"data":{"name":"cbw"},"mark":"rect","encoding":{"x":{"datum":0,"type":"quantitative","scale":{"domain":[0,2.96],"nice":false},"axis":null},"x2":{"datum":1},"y":{"field":"y0","type":"quantitative","scale":{"domain":[0,0.448],"nice":false},"axis":null},"y2":{"field":"y1"},"color":{"field":"v","type":"quantitative","legend":null,"scale":{"domain":[0,0.03,0.115,0.25,0.39,0.51],"range":["#fde6fd","#c8f0ff","#00e8ff","#0080ff","#0000ff","#00007f"]}}}},{"data":{"name":"cbwf"},"mark":{"type":"rect","filled":false,"stroke":"#555","strokeWidth":1},"encoding":{"x":{"field":"x0","type":"quantitative","axis":null},"x2":{"field":"x1"},"y":{"field":"y0","type":"quantitative","axis":null},"y2":{"field":"y1"}}},{"data":{"name":"cbwl"},"mark":{"type":"text","align":"left","baseline":"middle","dx":3,"dy":1.5,"fontSize":18,"font":"Liberation Sans","color":"#111"},"encoding":{"x":{"datum":1,"type":"quantitative"},"y":{"field":"y0","type":"quantitative"},"text":{"field":"t"}}}]},
{"width":137,"height":139,"title":{"text":"t = 0s","offset":3.3},"data":{"name":"w1"},"encoding":{"x":{"field":"x0","type":"quantitative","scale":{"domain":[0,1],"nice":false},"axis":{"values":[0,0.5,1],"title":null,"labelExpr":"''+datum.value"}},"x2":{"field":"x1"},"y":{"field":"y0","type":"quantitative","scale":{"domain":[0,1.061],"nice":false},"axis":{"values":[0,1],"title":"height [m]","labelExpr":"''+datum.value"}},"y2":{"field":"y1"}},"layer":[{"mark":"rect","encoding":{"color":{"field":"v","type":"quantitative","legend":null,"scale":{"domain":[0,0.03,0.115,0.25,0.39,0.51],"range":["#fde6fd","#c8f0ff","#00e8ff","#0080ff","#0000ff","#00007f"]}}}},{"data":{"name":"L3"},"mark":{"type":"rule","stroke":"#000","strokeWidth":2}},{"data":{"name":"F100"},"mark":{"type":"rect","filled":false,"stroke":"#333","strokeWidth":1}}]},
{"width":137,"height":139,"title":{"text":"t = 2h45min","offset":14.3},"data":{"name":"w2"},"encoding":{"x":{"field":"x0","type":"quantitative","scale":{"domain":[0,1],"nice":false},"axis":{"values":[0,0.5,1],"title":null,"labelExpr":"''+datum.value"}},"x2":{"field":"x1"},"y":{"field":"y0","type":"quantitative","scale":{"domain":[0,1],"nice":false},"axis":{"values":[0,0.5,0.95],"title":null,"labelExpr":"''+datum.value"}},"y2":{"field":"y1"}},"layer":[{"mark":"rect","encoding":{"color":{"field":"v","type":"quantitative","legend":null,"scale":{"domain":[0,0.03,0.115,0.25,0.39,0.51],"range":["#fde6fd","#c8f0ff","#00e8ff","#0080ff","#0000ff","#00007f"]}}}},{"data":{"name":"L3"},"mark":{"type":"rule","stroke":"#000","strokeWidth":2}},{"data":{"name":"F95"},"mark":{"type":"rect","filled":false,"stroke":"#333","strokeWidth":1}}]},
{"width":137,"height":139,"title":{"text":"t = 5h30min","offset":14.3},"data":{"name":"w3"},"encoding":{"x":{"field":"x0","type":"quantitative","scale":{"domain":[0,1],"nice":false},"axis":{"values":[0,0.5,1],"title":null,"labelExpr":"''+datum.value"}},"x2":{"field":"x1"},"y":{"field":"y0","type":"quantitative","scale":{"domain":[0,1],"nice":false},"axis":{"values":[0,0.5,0.9],"title":null,"labelExpr":"''+datum.value"}},"y2":{"field":"y1"}},"layer":[{"mark":"rect","encoding":{"color":{"field":"v","type":"quantitative","legend":null,"scale":{"domain":[0,0.03,0.115,0.25,0.39,0.51],"range":["#fde6fd","#c8f0ff","#00e8ff","#0080ff","#0000ff","#00007f"]}}}},{"data":{"name":"L3"},"mark":{"type":"rule","stroke":"#000","strokeWidth":2}},{"data":{"name":"F90"},"mark":{"type":"rect","filled":false,"stroke":"#333","strokeWidth":1}}]},
{"width":137,"height":139,"title":{"text":"t = 30000s","offset":14.3},"data":{"name":"w4"},"encoding":{"x":{"field":"x0","type":"quantitative","scale":{"domain":[0,1],"nice":false},"axis":{"values":[0,0.5,1],"title":null,"labelExpr":"''+datum.value"}},"x2":{"field":"x1"},"y":{"field":"y0","type":"quantitative","scale":{"domain":[0,1],"nice":false},"axis":{"values":[0,0.5,0.85],"title":null,"labelExpr":"''+datum.value"}},"y2":{"field":"y1"}},"layer":[{"mark":"rect","encoding":{"color":{"field":"v","type":"quantitative","legend":null,"scale":{"domain":[0,0.03,0.115,0.25,0.39,0.51],"range":["#fde6fd","#c8f0ff","#00e8ff","#0080ff","#0000ff","#00007f"]}}}},{"data":{"name":"L3"},"mark":{"type":"rule","stroke":"#000","strokeWidth":2}},{"data":{"name":"F85"},"mark":{"type":"rect","filled":false,"stroke":"#333","strokeWidth":1}}]},
{"width":137,"height":139,"title":{"text":"t = 8h20min","offset":14.3},"data":{"name":"w5"},"encoding":{"x":{"field":"x0","type":"quantitative","scale":{"domain":[0,1],"nice":false},"axis":{"values":[0,0.5,1],"title":null,"labelExpr":"''+datum.value"}},"x2":{"field":"x1"},"y":{"field":"y0","type":"quantitative","scale":{"domain":[0,1],"nice":false},"axis":{"values":[0,0.5,0.8],"title":null,"labelExpr":"''+datum.value"}},"y2":{"field":"y1"}},"layer":[{"mark":"rect","encoding":{"color":{"field":"v","type":"quantitative","legend":null,"scale":{"domain":[0,0.03,0.115,0.25,0.39,0.51],"range":["#fde6fd","#c8f0ff","#00e8ff","#0080ff","#0000ff","#00007f"]}}}},{"data":{"name":"L3"},"mark":{"type":"rule","stroke":"#000","strokeWidth":2}},{"data":{"name":"F80"},"mark":{"type":"rect","filled":false,"stroke":"#333","strokeWidth":1}}]},
{"width":137,"height":139,"title":{"text":"t = 22h15min","offset":14.3},"data":{"name":"w6"},"encoding":{"x":{"field":"x0","type":"quantitative","scale":{"domain":[0,1],"nice":false},"axis":{"values":[0,0.5,1],"title":null,"labelExpr":"''+datum.value"}},"x2":{"field":"x1"},"y":{"field":"y0","type":"quantitative","scale":{"domain":[0,1],"nice":false},"axis":{"values":[0,0.6],"title":null,"labelExpr":"''+datum.value"}},"y2":{"field":"y1"}},"layer":[{"mark":"rect","encoding":{"color":{"field":"v","type":"quantitative","legend":null,"scale":{"domain":[0,0.03,0.115,0.25,0.39,0.51],"range":["#fde6fd","#c8f0ff","#00e8ff","#0080ff","#0000ff","#00007f"]}}}},{"data":{"name":"L1"},"mark":{"type":"rule","stroke":"#000","strokeWidth":2}},{"data":{"name":"F60"},"mark":{"type":"rect","filled":false,"stroke":"#333","strokeWidth":1}}]},
{"width":77,"height":139,"title":{"text":"Density [kg/m³]","orient":"left","anchor":"middle","fontSize":25.5,"offset":1},"layer":[{"data":{"name":"cbd"},"mark":"rect","encoding":{"x":{"datum":0,"type":"quantitative","scale":{"domain":[0,2.96],"nice":false},"axis":null},"x2":{"datum":1},"y":{"field":"y0","type":"quantitative","scale":{"domain":[306.9,449.9],"nice":false},"axis":null},"y2":{"field":"y1"},"color":{"field":"v","type":"quantitative","legend":null,"scale":{"domain":[300,320,340,360,380,400,420,440,460],"range":["#00007f","#0000ff","#007fff","#00ffff","#7fff7f","#ffff00","#ff7f00","#ff0000","#7f0000"]}}}},{"data":{"name":"cbdf"},"mark":{"type":"rect","filled":false,"stroke":"#555","strokeWidth":1},"encoding":{"x":{"field":"x0","type":"quantitative","axis":null},"x2":{"field":"x1"},"y":{"field":"y0","type":"quantitative","axis":null},"y2":{"field":"y1"}}},{"data":{"name":"cbdl"},"mark":{"type":"text","align":"left","baseline":"middle","dx":3,"dy":2,"fontSize":18,"font":"Liberation Sans","color":"#111"},"encoding":{"x":{"datum":1,"type":"quantitative"},"y":{"field":"y0","type":"quantitative"},"text":{"field":"t"}}}]},
{"width":137,"height":139,"data":{"name":"d1"},"encoding":{"x":{"field":"x0","type":"quantitative","scale":{"domain":[0,1],"nice":false},"axis":{"values":[0,0.5,1],"title":null,"labelExpr":"''+datum.value"}},"x2":{"field":"x1"},"y":{"field":"y0","type":"quantitative","scale":{"domain":[0,1],"nice":false},"axis":{"values":[0,1],"title":"height [m]","labelExpr":"''+datum.value"}},"y2":{"field":"y1"}},"layer":[{"mark":"rect","encoding":{"color":{"field":"v","type":"quantitative","legend":null,"scale":{"domain":[300,320,340,360,380,400,420,440,460],"range":["#00007f","#0000ff","#007fff","#00ffff","#7fff7f","#ffff00","#ff7f00","#ff0000","#7f0000"]}}}},{"data":{"name":"L3"},"mark":{"type":"rule","stroke":"#000","strokeWidth":2}},{"data":{"name":"F100"},"mark":{"type":"rect","filled":false,"stroke":"#333","strokeWidth":1}}]},
{"width":137,"height":139,"data":{"name":"d2"},"encoding":{"x":{"field":"x0","type":"quantitative","scale":{"domain":[0,1],"nice":false},"axis":{"values":[0,0.5,1],"title":null,"labelExpr":"''+datum.value"}},"x2":{"field":"x1"},"y":{"field":"y0","type":"quantitative","scale":{"domain":[0,1],"nice":false},"axis":{"values":[0,0.5,0.95],"title":null,"labelExpr":"''+datum.value"}},"y2":{"field":"y1"}},"layer":[{"mark":"rect","encoding":{"color":{"field":"v","type":"quantitative","legend":null,"scale":{"domain":[300,320,340,360,380,400,420,440,460],"range":["#00007f","#0000ff","#007fff","#00ffff","#7fff7f","#ffff00","#ff7f00","#ff0000","#7f0000"]}}}},{"data":{"name":"L3"},"mark":{"type":"rule","stroke":"#000","strokeWidth":2}},{"data":{"name":"F95"},"mark":{"type":"rect","filled":false,"stroke":"#333","strokeWidth":1}}]},
{"width":137,"height":139,"data":{"name":"d3"},"encoding":{"x":{"field":"x0","type":"quantitative","scale":{"domain":[0,1],"nice":false},"axis":{"values":[0,0.5,1],"title":null,"labelExpr":"''+datum.value"}},"x2":{"field":"x1"},"y":{"field":"y0","type":"quantitative","scale":{"domain":[0,1],"nice":false},"axis":{"values":[0,0.5,0.9],"title":null,"labelExpr":"''+datum.value"}},"y2":{"field":"y1"}},"layer":[{"mark":"rect","encoding":{"color":{"field":"v","type":"quantitative","legend":null,"scale":{"domain":[300,320,340,360,380,400,420,440,460],"range":["#00007f","#0000ff","#007fff","#00ffff","#7fff7f","#ffff00","#ff7f00","#ff0000","#7f0000"]}}}},{"data":{"name":"L3"},"mark":{"type":"rule","stroke":"#000","strokeWidth":2}},{"data":{"name":"F90"},"mark":{"type":"rect","filled":false,"stroke":"#333","strokeWidth":1}}]},
{"width":137,"height":139,"data":{"name":"d4"},"encoding":{"x":{"field":"x0","type":"quantitative","scale":{"domain":[0,1],"nice":false},"axis":{"values":[0,0.5,1],"title":null,"labelExpr":"''+datum.value"}},"x2":{"field":"x1"},"y":{"field":"y0","type":"quantitative","scale":{"domain":[0,1],"nice":false},"axis":{"values":[0,0.5,0.85],"title":null,"labelExpr":"''+datum.value"}},"y2":{"field":"y1"}},"layer":[{"mark":"rect","encoding":{"color":{"field":"v","type":"quantitative","legend":null,"scale":{"domain":[300,320,340,360,380,400,420,440,460],"range":["#00007f","#0000ff","#007fff","#00ffff","#7fff7f","#ffff00","#ff7f00","#ff0000","#7f0000"]}}}},{"data":{"name":"L3"},"mark":{"type":"rule","stroke":"#000","strokeWidth":2}},{"data":{"name":"F85"},"mark":{"type":"rect","filled":false,"stroke":"#333","strokeWidth":1}}]},
{"width":137,"height":139,"data":{"name":"d5"},"encoding":{"x":{"field":"x0","type":"quantitative","scale":{"domain":[0,1],"nice":false},"axis":{"values":[0,0.5,1],"title":null,"labelExpr":"''+datum.value"}},"x2":{"field":"x1"},"y":{"field":"y0","type":"quantitative","scale":{"domain":[0,1],"nice":false},"axis":{"values":[0,0.5,0.8],"title":null,"labelExpr":"''+datum.value"}},"y2":{"field":"y1"}},"layer":[{"mark":"rect","encoding":{"color":{"field":"v","type":"quantitative","legend":null,"scale":{"domain":[300,320,340,360,380,400,420,440,460],"range":["#00007f","#0000ff","#007fff","#00ffff","#7fff7f","#ffff00","#ff7f00","#ff0000","#7f0000"]}}}},{"data":{"name":"L3"},"mark":{"type":"rule","stroke":"#000","strokeWidth":2}},{"data":{"name":"F80"},"mark":{"type":"rect","filled":false,"stroke":"#333","strokeWidth":1}}]},
{"width":137,"height":139,"data":{"name":"d6"},"encoding":{"x":{"field":"x0","type":"quantitative","scale":{"domain":[0,1],"nice":false},"axis":{"values":[0,0.5,1],"title":null,"labelExpr":"''+datum.value"}},"x2":{"field":"x1"},"y":{"field":"y0","type":"quantitative","scale":{"domain":[0,1],"nice":false},"axis":{"values":[0,0.6],"title":null,"labelExpr":"''+datum.value"}},"y2":{"field":"y1"}},"layer":[{"mark":"rect","encoding":{"color":{"field":"v","type":"quantitative","legend":null,"scale":{"domain":[300,320,340,360,380,400,420,440,460],"range":["#00007f","#0000ff","#007fff","#00ffff","#7fff7f","#ffff00","#ff7f00","#ff0000","#7f0000"]}}}},{"data":{"name":"L1"},"mark":{"type":"rule","stroke":"#000","strokeWidth":2}},{"data":{"name":"F60"},"mark":{"type":"rect","filled":false,"stroke":"#333","strokeWidth":1}}]},
{"width":77,"height":139,"title":{"text":"T [ºC]","orient":"left","anchor":"middle","fontSize":25.5,"offset":4},"layer":[{"data":{"name":"cbt"},"mark":"rect","encoding":{"x":{"datum":0,"type":"quantitative","scale":{"domain":[0,2.96],"nice":false},"axis":null},"x2":{"datum":1},"y":{"field":"y0","type":"quantitative","scale":{"domain":[-1.915,-0.133],"nice":false},"axis":null},"y2":{"field":"y1"},"color":{"field":"v","type":"quantitative","legend":null,"scale":{"domain":[-2,-1.75,-1.5,-1.25,-1,-0.75,-0.5,-0.25,0],"range":["#00007f","#0000ff","#007fff","#00ffff","#7fff7f","#ffff00","#ff7f00","#ff0000","#7f0000"]}}}},{"data":{"name":"cbtf"},"mark":{"type":"rect","filled":false,"stroke":"#555","strokeWidth":1},"encoding":{"x":{"field":"x0","type":"quantitative","axis":null},"x2":{"field":"x1"},"y":{"field":"y0","type":"quantitative","axis":null},"y2":{"field":"y1"}}},{"data":{"name":"cbtl"},"mark":{"type":"text","align":"left","baseline":"middle","dx":3,"dy":4,"fontSize":18,"font":"Liberation Sans","color":"#111"},"encoding":{"x":{"datum":1,"type":"quantitative"},"y":{"field":"y0","type":"quantitative"},"text":{"field":"t"}}}]},
{"width":137,"height":139,"data":{"name":"t1"},"encoding":{"x":{"field":"x0","type":"quantitative","scale":{"domain":[0,1],"nice":false},"axis":{"values":[0,0.5,1],"title":null,"labelExpr":"''+datum.value"}},"x2":{"field":"x1"},"y":{"field":"y0","type":"quantitative","scale":{"domain":[0,1],"nice":false},"axis":{"values":[0,1],"title":"height [m]","labelExpr":"''+datum.value"}},"y2":{"field":"y1"}},"layer":[{"mark":"rect","encoding":{"color":{"field":"v","type":"quantitative","legend":null,"scale":{"domain":[-2,-1.75,-1.5,-1.25,-1,-0.75,-0.5,-0.25,0],"range":["#00007f","#0000ff","#007fff","#00ffff","#7fff7f","#ffff00","#ff7f00","#ff0000","#7f0000"]}}}},{"data":{"name":"L3"},"mark":{"type":"rule","stroke":"#000","strokeWidth":2}},{"data":{"name":"F100"},"mark":{"type":"rect","filled":false,"stroke":"#333","strokeWidth":1}}]},
{"width":137,"height":139,"data":{"name":"t2"},"encoding":{"x":{"field":"x0","type":"quantitative","scale":{"domain":[0,1],"nice":false},"axis":{"values":[0,0.5,1],"title":null,"labelExpr":"''+datum.value"}},"x2":{"field":"x1"},"y":{"field":"y0","type":"quantitative","scale":{"domain":[0,1],"nice":false},"axis":{"values":[0,0.5,0.95],"title":null,"labelExpr":"''+datum.value"}},"y2":{"field":"y1"}},"layer":[{"mark":"rect","encoding":{"color":{"field":"v","type":"quantitative","legend":null,"scale":{"domain":[-2,-1.75,-1.5,-1.25,-1,-0.75,-0.5,-0.25,0],"range":["#00007f","#0000ff","#007fff","#00ffff","#7fff7f","#ffff00","#ff7f00","#ff0000","#7f0000"]}}}},{"data":{"name":"L3"},"mark":{"type":"rule","stroke":"#000","strokeWidth":2}},{"data":{"name":"F95"},"mark":{"type":"rect","filled":false,"stroke":"#333","strokeWidth":1}}]},
{"width":137,"height":139,"data":{"name":"t3"},"encoding":{"x":{"field":"x0","type":"quantitative","scale":{"domain":[0,1],"nice":false},"axis":{"values":[0,0.5,1],"title":null,"labelExpr":"''+datum.value"}},"x2":{"field":"x1"},"y":{"field":"y0","type":"quantitative","scale":{"domain":[0,1],"nice":false},"axis":{"values":[0,0.5,0.9],"title":null,"labelExpr":"''+datum.value"}},"y2":{"field":"y1"}},"layer":[{"mark":"rect","encoding":{"color":{"field":"v","type":"quantitative","legend":null,"scale":{"domain":[-2,-1.75,-1.5,-1.25,-1,-0.75,-0.5,-0.25,0],"range":["#00007f","#0000ff","#007fff","#00ffff","#7fff7f","#ffff00","#ff7f00","#ff0000","#7f0000"]}}}},{"data":{"name":"L3"},"mark":{"type":"rule","stroke":"#000","strokeWidth":2}},{"data":{"name":"F90"},"mark":{"type":"rect","filled":false,"stroke":"#333","strokeWidth":1}}]},
{"width":137,"height":139,"data":{"name":"t4"},"encoding":{"x":{"field":"x0","type":"quantitative","scale":{"domain":[0,1],"nice":false},"axis":{"values":[0,0.5,1],"title":null,"labelExpr":"''+datum.value"}},"x2":{"field":"x1"},"y":{"field":"y0","type":"quantitative","scale":{"domain":[0,1],"nice":false},"axis":{"values":[0,0.5,0.85],"title":null,"labelExpr":"''+datum.value"}},"y2":{"field":"y1"}},"layer":[{"mark":"rect","encoding":{"color":{"field":"v","type":"quantitative","legend":null,"scale":{"domain":[-2,-1.75,-1.5,-1.25,-1,-0.75,-0.5,-0.25,0],"range":["#00007f","#0000ff","#007fff","#00ffff","#7fff7f","#ffff00","#ff7f00","#ff0000","#7f0000"]}}}},{"data":{"name":"L3"},"mark":{"type":"rule","stroke":"#000","strokeWidth":2}},{"data":{"name":"F85"},"mark":{"type":"rect","filled":false,"stroke":"#333","strokeWidth":1}}]},
{"width":137,"height":139,"data":{"name":"t5"},"encoding":{"x":{"field":"x0","type":"quantitative","scale":{"domain":[0,1],"nice":false},"axis":{"values":[0,0.5,1],"title":null,"labelExpr":"''+datum.value"}},"x2":{"field":"x1"},"y":{"field":"y0","type":"quantitative","scale":{"domain":[0,1],"nice":false},"axis":{"values":[0,0.5,0.8],"title":null,"labelExpr":"''+datum.value"}},"y2":{"field":"y1"}},"layer":[{"mark":"rect","encoding":{"color":{"field":"v","type":"quantitative","legend":null,"scale":{"domain":[-2,-1.75,-1.5,-1.25,-1,-0.75,-0.5,-0.25,0],"range":["#00007f","#0000ff","#007fff","#00ffff","#7fff7f","#ffff00","#ff7f00","#ff0000","#7f0000"]}}}},{"data":{"name":"L3"},"mark":{"type":"rule","stroke":"#000","strokeWidth":2}},{"data":{"name":"F80"},"mark":{"type":"rect","filled":false,"stroke":"#333","strokeWidth":1}}]},
{"width":137,"height":139,"data":{"name":"t6"},"encoding":{"x":{"field":"x0","type":"quantitative","scale":{"domain":[0,1],"nice":false},"axis":{"values":[0,0.5,1],"title":null,"labelExpr":"''+datum.value"}},"x2":{"field":"x1"},"y":{"field":"y0","type":"quantitative","scale":{"domain":[0,1],"nice":false},"axis":{"values":[0,0.6],"title":null,"labelExpr":"''+datum.value"}},"y2":{"field":"y1"}},"layer":[{"mark":"rect","encoding":{"color":{"field":"v","type":"quantitative","legend":null,"scale":{"domain":[-2,-1.75,-1.5,-1.25,-1,-0.75,-0.5,-0.25,0],"range":["#00007f","#0000ff","#007fff","#00ffff","#7fff7f","#ffff00","#ff7f00","#ff0000","#7f0000"]}}}},{"data":{"name":"L1"},"mark":{"type":"rule","stroke":"#000","strokeWidth":2}},{"data":{"name":"F60"},"mark":{"type":"rect","filled":false,"stroke":"#333","strokeWidth":1}}]}
]}
